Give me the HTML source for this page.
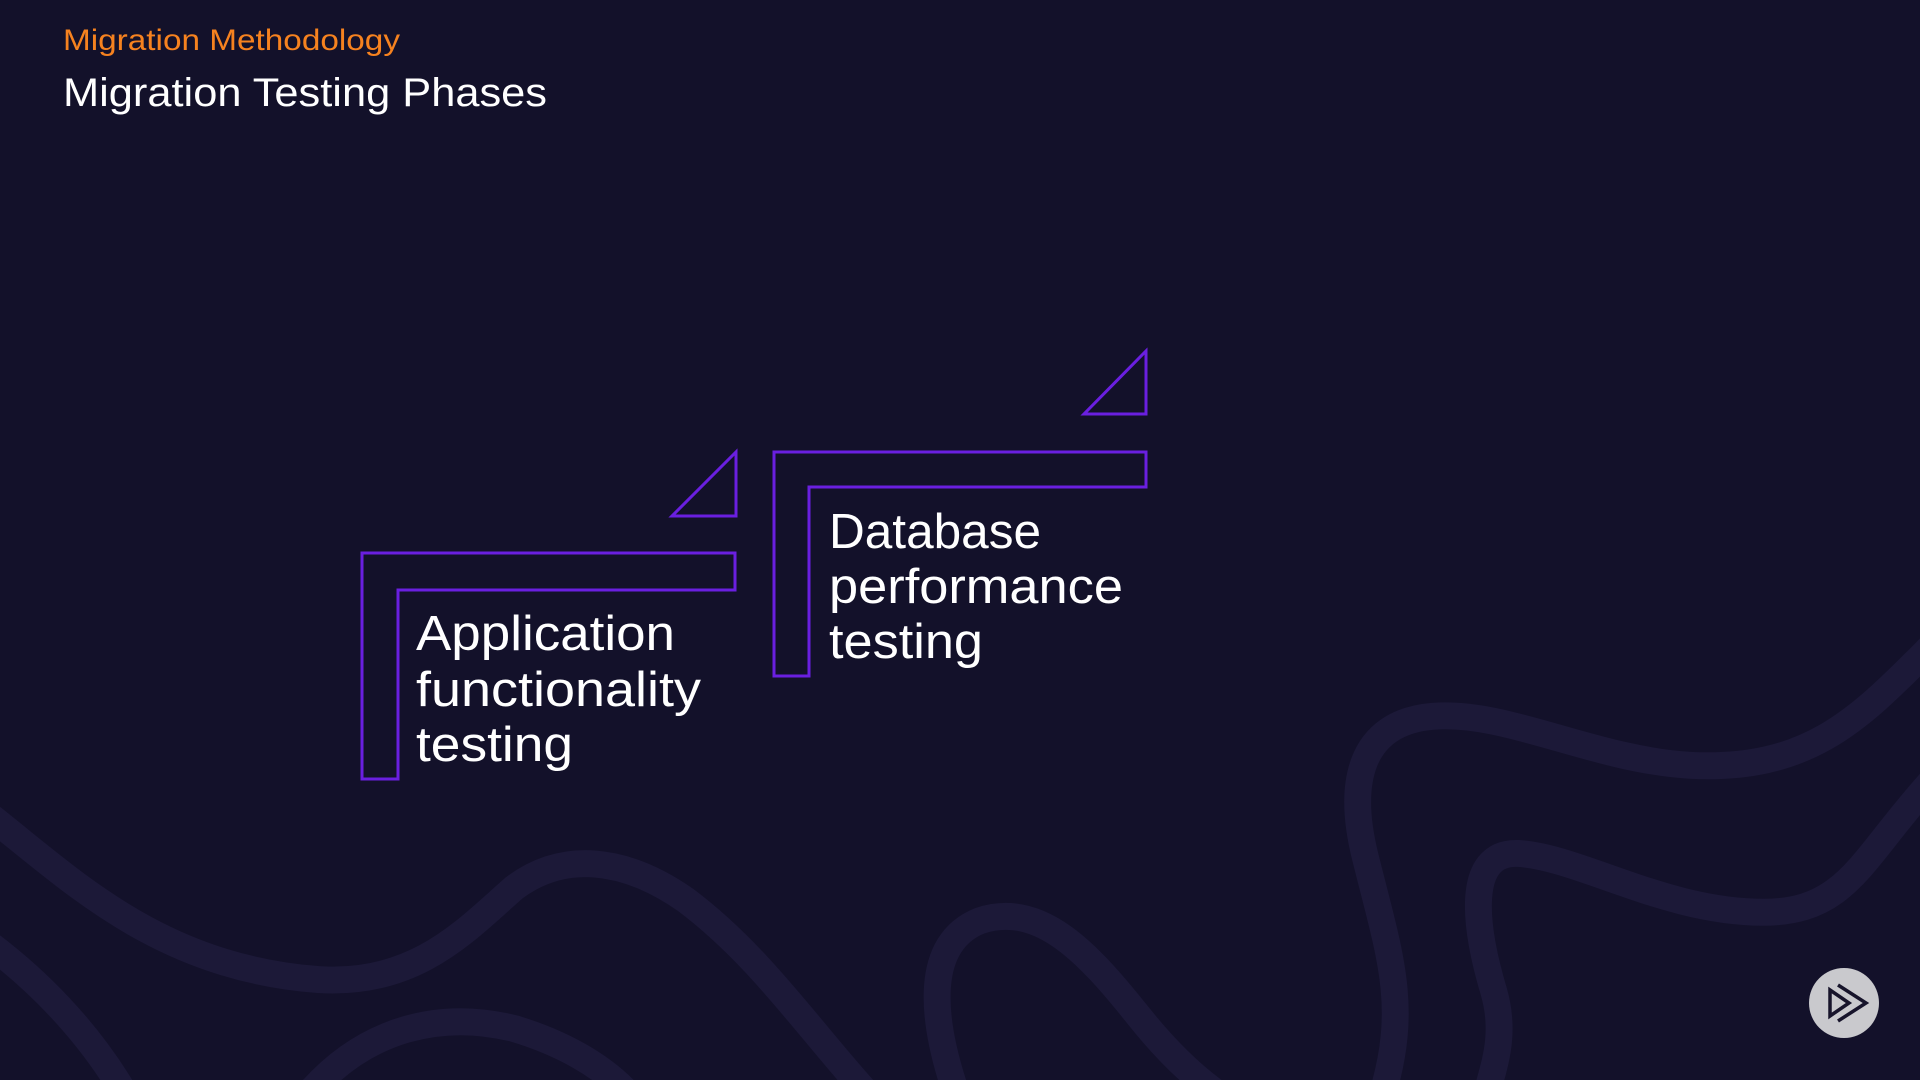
<!DOCTYPE html>
<html><head><meta charset="utf-8"><style>
html,body{margin:0;padding:0;background:#13112a;}
svg{display:block}
text{font-family:"Liberation Sans",sans-serif;}
</style></head><body>
<svg width="1920" height="1080" viewBox="0 0 1920 1080" xmlns="http://www.w3.org/2000/svg">
<rect width="1920" height="1080" fill="#13112a"/>
<g transform="scale(1.2245)" fill="none" stroke="#1c1938" stroke-width="22" stroke-linecap="round">
<path d="M-10,665 C60,720 130,790 260,800 C340,805 380,760 420,725 C460,695 510,700 560,735 C620,780 660,840 710,895"/>
<path d="M-10,770 C30,800 70,840 100,890"/>
<path d="M255,890 C300,840 360,825 420,840 C460,852 490,870 510,890"/>
<path d="M780,890 C760,830 755,770 800,752 C850,735 890,780 930,830 C950,855 970,875 990,890"/>
<path d="M1580,525 C1520,585 1480,630 1380,625 C1300,620 1230,580 1170,585 C1110,590 1100,640 1115,700 C1135,780 1150,820 1130,890"/>
<path d="M1580,635 C1520,700 1510,745 1440,745 C1360,745 1290,700 1240,697 C1195,695 1205,760 1220,810 C1230,845 1220,870 1215,890"/>
</g>
<g fill="none" stroke="#6a1fe0" stroke-width="3">
<path d="M362,553 H735 V590 H398 V779 H362 Z"/>
<path d="M736,452 V516 H672 Z"/>
<path d="M774,452 H1146 V487 H809 V676 H774 Z"/>
<path d="M1146,351 V414 H1084 Z"/>
</g>
<g fill="#ffffff" font-size="49">
<text x="416" y="650" textLength="259" lengthAdjust="spacingAndGlyphs">Application</text>
<text x="416" y="706" textLength="285" lengthAdjust="spacingAndGlyphs">functionality</text>
<text x="416" y="761" textLength="157" lengthAdjust="spacingAndGlyphs">testing</text>
<text x="829" y="548" textLength="212" lengthAdjust="spacingAndGlyphs">Database</text>
<text x="829" y="603" textLength="294" lengthAdjust="spacingAndGlyphs">performance</text>
<text x="829" y="658" textLength="154" lengthAdjust="spacingAndGlyphs">testing</text>
</g>
<text x="63" y="50" font-size="30" fill="#f6821f" textLength="337" lengthAdjust="spacingAndGlyphs">Migration Methodology</text>
<text x="63" y="106" font-size="40" fill="#ffffff" textLength="484" lengthAdjust="spacingAndGlyphs">Migration Testing Phases</text>
<circle cx="1844" cy="1003" r="35" fill="#c9c9cd"/>
<g fill="none" stroke="#17142b" stroke-width="3.5" stroke-linejoin="miter">
<path d="M1830,990 V1016 L1849,1003 Z"/>
<path d="M1838,985 L1866,1003 L1838,1021"/>
</g>
</svg>
</body></html>
